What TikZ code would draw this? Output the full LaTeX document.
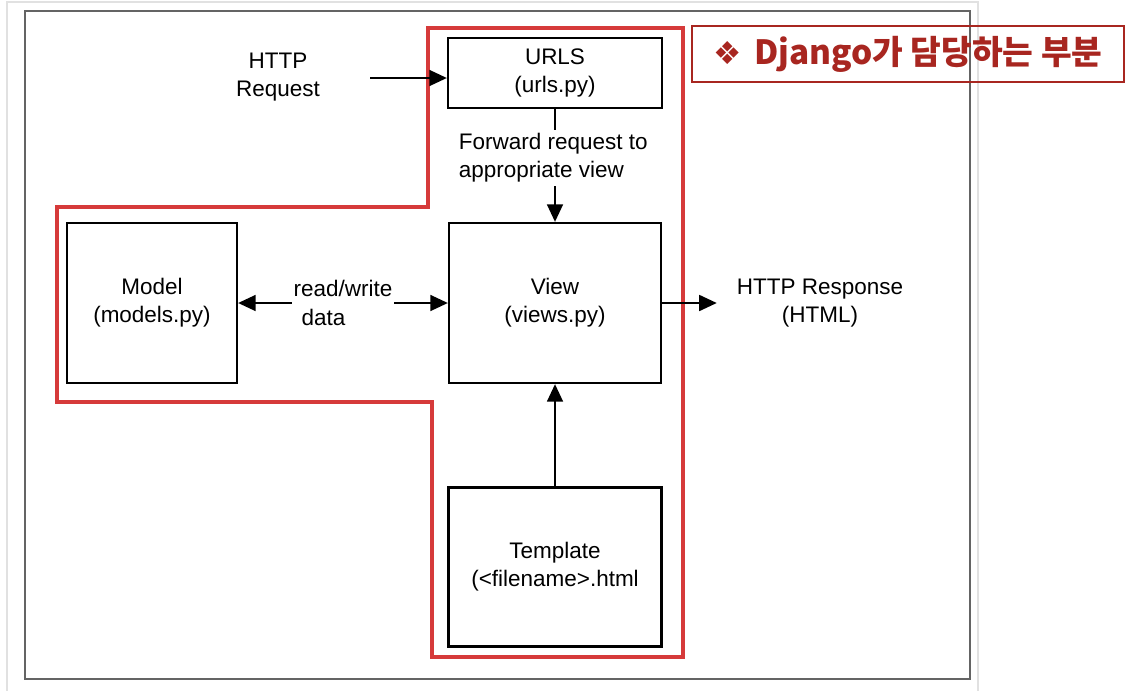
\documentclass[tikz,border=0pt]{standalone}
\usepackage{fontspec}
\setmainfont{Liberation Sans}
\newfontfamily\krfont{Noto Sans CJK KR}
\newfontfamily\symfont{DejaVu Sans}
\usetikzlibrary{arrows.meta}
\definecolor{djred}{RGB}{214,58,58}
\definecolor{titlered}{RGB}{168,38,32}
\definecolor{framegray}{RGB}{100,100,100}
\definecolor{edgegray}{RGB}{225,225,225}

\begin{document}
\begin{tikzpicture}[x=0.02cm, y=-0.02cm,
    box/.style={rectangle, draw, line width=1.3pt, align=center, font=\fontsize{12.8}{16}\selectfont},
    lbl/.style={inner sep=1pt, align=center, font=\fontsize{12.8}{16}\selectfont},
    arr/.style={line width=1.3pt, -{Triangle[length=10pt,width=9pt]}},
    redline/.style={djred, line width=2.4pt}]

  % Frame
  \useasboundingbox (0,0) rectangle (1148,690);
  \draw[edgegray, line width=0.6pt] (7,700) -- (7,2) -- (978,2) -- (978,700);
  \draw[framegray, line width=1.2pt] (25,11) rectangle (970,679);

  % Django part
  \draw[redline] (428,28) -- (683,28) -- (683,657) -- (432,657) -- (432,402)
    -- (57,402) -- (57,207) -- (428,207) -- cycle;

  % Boxes
  \node[box, minimum width=4.28cm, minimum height=1.4cm] (urls) at (555,73) {URLS\\(urls.py)};
  \node[box, minimum width=4.24cm, minimum height=3.2cm] (view) at (555,303) {View\\(views.py)};
  \node[box, minimum width=3.4cm, minimum height=3.2cm] (model) at (152,303) {Model\\(models.py)};
  \node[box, minimum width=4.26cm, minimum height=3.18cm] (tmpl) at (555,567) {Template\\(<filename>.html};

  % Labels
  \node[lbl] (req) at (278,77) {HTTP\\Request};
  \node[lbl, align=left, inner sep=2pt, anchor=west] (fwd) at (455,158) {Forward request to\\appropriate view};
  \node[lbl, align=left] (rw) at (343,303) {read/write\\\hspace*{4.5pt}data};
  \node[lbl] (resp) at (820,303) {HTTP Response\\(HTML)};

  % Title
  \node[draw=titlered, line width=0.8pt, minimum width=8.64cm, minimum height=1.12cm,
    text=titlered, font=\krfont\bfseries\fontsize{19}{22}\selectfont] (title) at (908,54)
    {{\symfont\fontsize{18}{20}\selectfont ❖}\hspace{7pt}Django가 담당하는 부분\hspace{6pt}};

  % Arrows
  \coordinate (reqend) at (370,78);
  \draw[arr] (reqend) -- (reqend -| urls.west);
  \draw[line width=1.3pt] (urls.south) -- (urls.south |- fwd.north);
  \draw[arr] (view.north |- fwd.south) -- (view.north);
  \draw[arr] (rw.west) -- (model.east);
  \draw[arr] (rw.east) -- (view.west);
  \draw[arr] (view.east) -- ([xshift=-0.36cm]resp.west);
  \draw[arr] (tmpl) -- (view);

\end{tikzpicture}
\end{document}
